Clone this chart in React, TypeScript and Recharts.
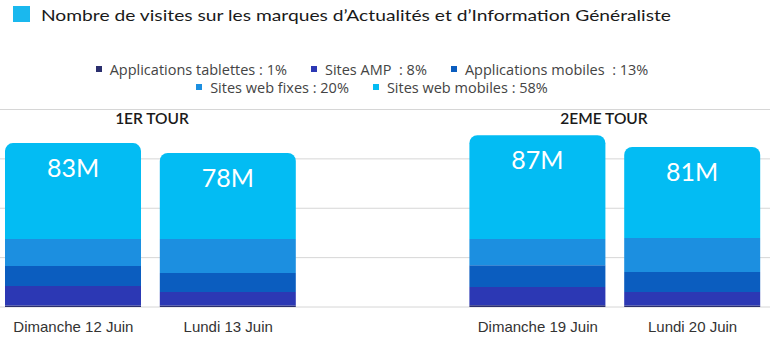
import { BarChart, Bar, XAxis, YAxis, CartesianGrid, LabelList } from "recharts";

// audience, in millions of visits
const categories = ["Dimanche 12 Juin", "Lundi 13 Juin", "", "Dimanche 19 Juin", "Lundi 20 Juin"];
const tablettes = [0.8, 0.8, null, 0.9, 0.8];
const sitesAmp = [9.8, 6.8, null, 9.2, 6.8];
const appsMobiles = [10.1, 9.6, null, 11.1, 10.1];
const webFixes = [13.7, 17.2, null, 13.2, 17.2];
const webMobiles = [48.6, 43.6, null, 52.6, 46.1];
const totals = [83, 78, null, 87, 81];

const seriesNames = ["Applications tablettes", "Sites AMP ", "Applications mobiles ", "Sites web fixes", "Sites web mobiles"];
const seriesShares = [1, 8, 13, 20, 58];
const seriesKeys = ["tablettes", "amp", "apps", "fixes", "web"];
const colors = ["#2b2f6e", "#2c38b4", "#0b5dbf", "#1c8fe0", "#03bcf3"];

const tours = ["1ER TOUR", "2EME TOUR"];
const title = "Nombre de visites sur les marques d\u2019Actualités et d\u2019Information Généraliste";
const yTicks = [0, 25, 50, 75, 100];

const data = categories.map((c, i) => ({
  cat: c,
  tablettes: tablettes[i],
  amp: sitesAmp[i],
  apps: appsMobiles[i],
  fixes: webFixes[i],
  web: webMobiles[i],
  total: totals[i],
}));

const renderTotal = (props: any) => {
  const { x, y, width, value } = props;
  if (value == null) return null;
  return (
    <text
      x={x + width / 2}
      y={y + 24}
      textAnchor="middle"
      dominantBaseline="central"
      fill="#fff"
      style={{ fontFamily: "Lato", fontSize: 25 }}
    >
      {value}M
    </text>
  );
};

const renderTick = (props: any) => {
  const { x, y, payload } = props;
  return (
    <text x={x} y={y} dy={17} textAnchor="middle" fill="#333" style={{ fontFamily: "Liberation Sans", fontSize: 15 }}>
      {payload.value}
    </text>
  );
};

function Legend() {
  const item = (i: number) => (
    <span key={i} style={{ display: "inline-flex", alignItems: "center", margin: "0 12px", whiteSpace: "pre" }}>
      <span style={{ width: 6, height: 6, background: colors[i], marginRight: 8, display: "inline-block" }} />
      {seriesNames[i]} : {seriesShares[i]}%
    </span>
  );
  const rowStyle = { display: "flex", justifyContent: "center", height: 18, alignItems: "center" } as const;
  return (
    <div
      style={{
        position: "absolute",
        left: 0,
        top: 60,
        width: 744,
        fontFamily: "Open Sans",
        fontSize: 14.5,
        color: "#444",
      }}
    >
      <div style={rowStyle}>{[0, 1, 2].map(item)}</div>
      <div style={rowStyle}>{[3, 4].map(item)}</div>
    </div>
  );
}

export default function App() {
  return (
    <div style={{ position: "absolute", left: 0, top: 0, width: 770, height: 340, background: "#fff", overflow: "hidden" }}>
      <div style={{ position: "absolute", left: -4, top: 0 }}>
        <BarChart width={774} height={340} data={data} margin={{ top: 109.5, right: 0, left: 0, bottom: 0 }}>
          <CartesianGrid vertical={false} stroke="#d6d6d6" />
          <YAxis hide domain={[0, 100]} ticks={yTicks} />
          <XAxis dataKey="cat" axisLine={false} tickLine={false} height={33} tick={renderTick} interval={0} />
          {seriesKeys.map((k, i) => (
            <Bar
              key={k}
              dataKey={k}
              stackId="a"
              fill={colors[i]}
              barSize={136}
              isAnimationActive={false}
              radius={k === "web" ? [8, 8, 0, 0] : 0}
            >
              {k === "web" && <LabelList dataKey="total" content={renderTotal} />}
            </Bar>
          ))}
        </BarChart>
      </div>
      <svg width={770} height={340} style={{ position: "absolute", left: 0, top: 0, pointerEvents: "none" }}>
        <rect x={13} y={6} width={17} height={16} fill="#1ab8ee" />
        <text x={41} y={21} textLength={630} lengthAdjust="spacingAndGlyphs" fill="#1a1a1a" style={{ fontFamily: "Lato", fontSize: 16 }}>
          {title}
        </text>
        <text x={152} y={124} textAnchor="middle" fill="#1a1a1a" style={{ fontFamily: "Lato", fontSize: 15.5, fontWeight: 600 }}>
          {tours[0]}
        </text>
        <text x={604} y={124} textAnchor="middle" fill="#1a1a1a" style={{ fontFamily: "Lato", fontSize: 15.5, fontWeight: 600 }}>
          {tours[1]}
        </text>
      </svg>
      <Legend />
    </div>
  );
}
